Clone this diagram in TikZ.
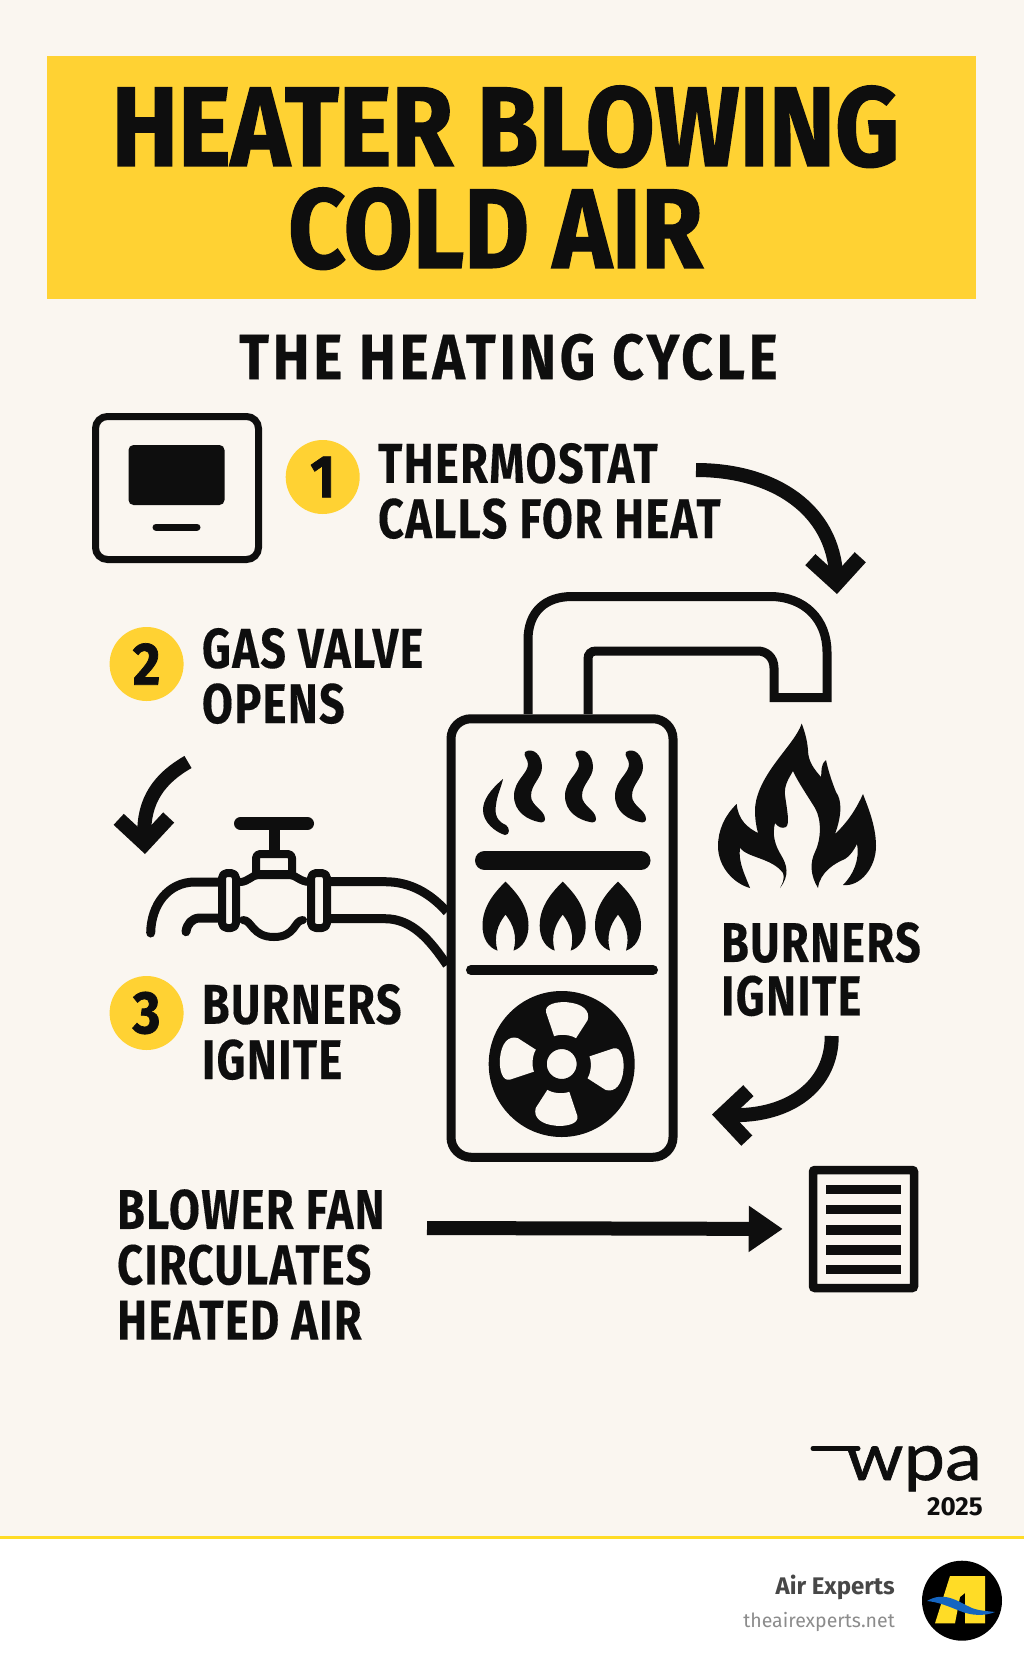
\documentclass[tikz,border=0pt]{standalone}
\usepackage{fontspec}
\setmainfont{Fira Sans}
\newfontfamily\headfont[FakeStretch=0.885,FakeBold=1.2]{Fira Sans}
\newfontfamily\subfont[FakeStretch=0.86,FakeBold=0.4,LetterSpace=6]{Fira Sans}
\newfontfamily\labelfont[FakeStretch=0.80,FakeBold=0.2,LetterSpace=2.7]{Fira Sans}
\newfontfamily\logofont[FakeStretch=1.12,FakeBold=1]{Lato}
\usepackage{tikz}
\usetikzlibrary{arrows.meta, positioning}
\definecolor{paper}{HTML}{FAF6F0}
\definecolor{sun}{HTML}{FFD233}
\definecolor{rule}{HTML}{FFDC26}
\definecolor{ink}{HTML}{0E0E0E}
\definecolor{swoosh}{HTML}{1565C0}

\begin{document}
\begin{tikzpicture}[
  x=1pt, y=-1pt,
  banner/.style={fill=sun, minimum width=929pt, minimum height=242.5pt, inner sep=0pt, align=center, text=ink,
                 font=\headfont\bfseries\fontsize{113}{102}\selectfont},
  subhead/.style={inner sep=0pt, text=ink, font=\subfont\bfseries\fontsize{64}{64}\selectfont},
  lbl/.style={inner sep=0pt, align=left, text=ink, font=\labelfont\bfseries\fontsize{56}{55.3}\selectfont},
  badge/.style={circle, fill=sun, minimum size=74pt, inner sep=0pt, text=ink,
                font=\headfont\bfseries\fontsize{60}{60}\selectfont},
  panel/.style={draw=ink, fill=paper, inner sep=0pt},
  pipe/.style={draw=ink, line width=9pt, line cap=round, line join=round},
  arr/.style={draw=ink, line width=14pt, -{Straight Barb[length=25pt, width=50pt, line width=15pt]}},
  bar/.style={draw=ink, line cap=round},
  wisp/.pic={\fill[ink] (0,2) .. controls (8,-3) and (17,5) .. (17,17) .. controls (17,28) and (6,34) .. (6,46)
     .. controls (6,56) and (20,60) .. (20,69) .. controls (20,72) and (17,73) .. (14,72)
     .. controls (3,70) and (-11,62) .. (-11,46) .. controls (-11,30) and (3,24) .. (3,14) .. controls (3,9) and (-2,6) .. (0,2) -- cycle;},
  tongue/.pic={\fill[ink] (0,0) .. controls (10,10) and (23,24) .. (23,44) .. controls (23,57) and (17,66) .. (8,69)
     .. controls (12,55) and (8,43) .. (0,33) .. controls (-8,43) and (-12,55) .. (-8,69)
     .. controls (-17,66) and (-23,57) .. (-23,44) .. controls (-23,24) and (-10,10) .. (0,0) -- cycle;},
  blade/.pic={\fill[paper] (-10,-27) -- (-20,-50) .. controls (-23,-58) and (-10,-62) .. (0,-62)
     .. controls (15,-62) and (24,-56) .. (22,-46) -- (12,-27) .. controls (6,-30) and (-4,-30) .. (-10,-27) -- cycle;},
]
  \useasboundingbox (0,0) rectangle (1024,1666);
  \fill[white] (0,0) rectangle (1024,1666);
  \fill[paper] (0,0) rectangle (1024,1536);
  \fill[rule] (0,1535.5) rectangle (1024,1538.5);

  \node[banner] (title) at (511.5,177.7) {HEATER BLOWING\hspace*{12pt}\\COLD AIR\hspace*{32pt}};
  \node[subhead] (cycle) at (508.5,357) {THE HEATING CYCLE};

  % thermostat
  \node[panel, line width=7pt, rounded corners=12pt, minimum width=163pt, minimum height=143pt] (stat) at (177,488) {};
  \node[fill=ink, rounded corners=5pt, minimum width=96pt, minimum height=60pt, inner sep=0pt] (screen) at (176.5,475) {};
  \draw[bar, line width=7pt] (156,527) -- (197,527);

  % numbered steps
  \node[badge] (one) at (322.7,477) {1};
  \node[badge] (two) at (146.6,664) {2};
  \node[badge] (three) at (146.6,1013) {3};
  \node[lbl, right=18pt of one, yshift=-14pt] (calls) {THERMOSTAT\\CALLS FOR HEAT};
  \node[lbl, right=18pt of two, yshift=-12pt] (valve) {GAS VALVE\\OPENS};
  \node[lbl, right=18pt of three, yshift=-19pt] (burnl) {BURNERS\\IGNITE};
  \node[lbl, anchor=north west] (burnr) at (721,922) {BURNERS\\[-2pt]IGNITE};
  \node[lbl, anchor=north west] (blow) at (117,1189) {BLOWER FAN\\CIRCULATES\\HEATED AIR};

  % flue
  \draw[pipe, line cap=butt, line join=miter, rounded corners=0pt]
    (528,714) -- (528,640) .. controls (528,612) and (545,596.5) .. (572,596.5) -- (770,596.5)
    .. controls (805,596.5) and (827,620) .. (827,652) -- (827,697.5) -- (774,697.5) -- (774,668)
    .. controls (774,657) and (766,651) .. (758,651) -- (596,651) .. controls (591,651) and (588,654) .. (588,659) -- (588,714);

  % furnace
  \node[panel, line width=9pt, rounded corners=20pt, minimum width=222pt, minimum height=438.5pt] (body) at (562,938) {};
  \pic at (525,750) {wisp};
  \pic at (576,750) {wisp};
  \pic at (626,750) {wisp};
  \fill[ink] (503,779) .. controls (490,790) and (483,800) .. (483,810) .. controls (483,822) and (495,832) .. (505,835)
    .. controls (510,835) and (510,828) .. (506,825) .. controls (498,822) and (494,815) .. (496,805) .. controls (497,795) and (501,788) .. (503,779) -- cycle;
  \draw[bar, line width=19pt] (484.5,860.5) -- (641,860.5);
  \pic at (505.5,881.6) {tongue};
  \pic at (562.7,881.6) {tongue};
  \pic at (618,881.6) {tongue};
  \draw[bar, line width=10pt] (471,970) -- (653,970);

  % fan
  \node[circle, fill=ink, minimum size=146pt, inner sep=0pt] (fan) at (561.7,1064) {};
  \pic[rotate=-5] at (fan) {blade};
  \pic[rotate=-95] at (fan) {blade};
  \pic[rotate=-185] at (fan) {blade};
  \pic[rotate=-275] at (fan) {blade};
  \node[circle, draw=ink, fill=paper, line width=10pt, minimum size=40pt, inner sep=0pt] (hub) at (fan) {};

  % big flame
  \fill[ink] (801.7,723.5) .. controls (795,745) and (756,775) .. (755,810) .. controls (755,818) and (756,826) .. (758,833)
    .. controls (748,828) and (738,820) .. (736.7,804) .. controls (725,815) and (718,830) .. (718,846)
    .. controls (718,868) and (735,884) .. (750,888) .. controls (745,875) and (738,862) .. (740,848)
    .. controls (748,858) and (772,858) .. (783,873) .. controls (785,880) and (782,884) .. (780,888)
    .. controls (790,875) and (787,865) .. (781,855) .. controls (775,845) and (772,835) .. (775,823)
    .. controls (778,827) and (782,829) .. (786,827) .. controls (790,824) and (787,810) .. (785,795)
    .. controls (784,785) and (789,778) .. (793,771) .. controls (798,782) and (807,795) .. (815,808)
    .. controls (822,820) and (821,840) .. (815,852) .. controls (810,862) and (810,875) .. (818,888)
    .. controls (820,872) and (835,863) .. (845,859) .. controls (850,856) and (854,850) .. (857,844)
    .. controls (860,860) and (853,875) .. (843,885) .. controls (860,887) and (876,868) .. (876,846)
    .. controls (876,825) and (867,805) .. (863,794) .. controls (858,805) and (850,820) .. (835,834)
    .. controls (842,815) and (842,800) .. (836,792) .. controls (832,782) and (828,770) .. (826,760)
    .. controls (820,765) and (822,772) .. (821,777) .. controls (815,770) and (808,762) .. (808,750)
    .. controls (807,738) and (804,730) .. (801.7,723.5) -- cycle;

  % valve
  \draw[pipe] (218,882) -- (195,882) .. controls (168,882) and (151,905) .. (150.7,933);
  \draw[pipe] (218,918) -- (200,918) .. controls (192,918) and (187,924) .. (186,931.7);
  \draw[pipe, line cap=butt] (331,881.7) -- (385,881.7) .. controls (410,881.7) and (430,893) .. (447,912);
  \draw[pipe, line cap=butt] (331,918.7) -- (385,918.7) .. controls (412,918.7) and (430,940) .. (447,965);
  \draw[pipe, line width=8pt] (240,882) .. controls (248,882) and (252,875) .. (258,875) -- (290,875)
    .. controls (296,875) and (300,882) .. (310,882);
  \draw[pipe, line width=8pt] (243,920) .. controls (252,920) and (252,937) .. (274,937) .. controls (296,937) and (294,920) .. (303,920);
  \draw[pipe, line width=8pt, rounded corners=4pt] (256,875) -- (256,854) -- (292,854) -- (292,875);
  \draw[pipe, line width=8pt, line cap=butt] (257,874) -- (291,874);
  \draw[bar, line width=11pt, line cap=butt] (274,826) -- (274,852);
  \draw[bar, line width=13pt] (240.5,823.5) -- (307.5,823.5);
  \draw[pipe, line width=8pt, rounded corners=5pt] (222,873) rectangle (236,928);
  \draw[pipe, line width=8pt, rounded corners=5pt] (311,873) rectangle (327,928);

  % register
  \node[panel, line width=8.5pt, rounded corners=2pt, minimum width=101pt, minimum height=118pt] (grille) at (863.5,1229) {};
  \fill[ink] (826,1185) rectangle (901,1194);
  \fill[ink] (826,1205) rectangle (901,1214);
  \fill[ink] (826,1225) rectangle (901,1235);
  \fill[ink] (826,1245) rectangle (901,1255);
  \fill[ink] (826,1265) rectangle (901,1274);

  % connectors
  \coordinate (astat) at (696,470);
  \coordinate (aflue) at (837,594);
  \coordinate (avalve) at (188,762);
  \coordinate (apipe) at (145,854);
  \coordinate (aburn) at (831.7,1036);
  \coordinate (abody) at (712,1114.5);
  \draw[arr] (astat) .. controls (775,470) and (833,510) .. (aflue);
  \draw[arr] (avalve) .. controls (160,778) and (143,800) .. (apipe);
  \draw[arr] (aburn) .. controls (832,1085) and (790,1117) .. (abody);
  \draw[draw=ink, line width=14pt, shorten >=26pt, -{Triangle[length=34pt, width=44pt]}] (427,1228) -- (grille.west);

  % footer
  \node[anchor=base east, inner sep=0pt, text=ink, font=\logofont\fontsize{66}{66}\selectfont] (wpa) at (982,1480) {wpa};
  \coordinate (wpabar) at (813,1448.5);
  \draw[ink, line width=5pt, line cap=round] (wpabar) -- (858,1448.5);
  \node[anchor=base east, inner sep=0pt, text=ink, font=\bfseries\fontsize{26}{26}\selectfont] (year) at (983,1515) {2025};
  \node[anchor=base east, inner sep=0pt, text=black!72, font=\bfseries\fontsize{24}{24}\selectfont] (brand) at (895,1594) {Air Experts};
  \node[anchor=base east, inner sep=0pt, text=black!45, font=\fontsize{19.5}{19.5}\selectfont] (site) at (895,1627) {theairexperts.net};
  \node[circle, fill=black, minimum size=80pt, inner sep=0pt] (logo) at (962,1600.7) {};
  \fill[rule] (950,1576) -- (985,1576) -- (985,1623.3) -- (965,1623.3) -- (965,1593) -- (960,1597) -- (955,1623.3) -- (935,1623.3) -- cycle;
  \fill[swoosh] (927,1601) .. controls (945,1590) and (960,1603) .. (972,1608) .. controls (980,1611) and (988,1611) .. (995,1612)
    .. controls (985,1616) and (972,1616) .. (960,1611) .. controls (948,1606) and (938,1602) .. (927,1601) -- cycle;
\end{tikzpicture}
\end{document}
